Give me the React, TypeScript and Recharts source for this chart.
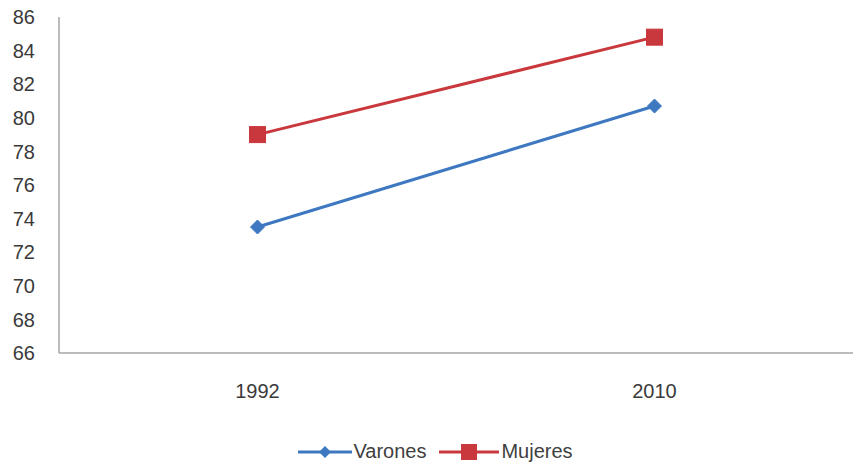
import React from 'react';
import { LineChart, Line, XAxis, YAxis, Legend } from 'recharts';

const years = ['1992', '2010'];
const varones = [73.5, 80.7];
const mujeres = [79.0, 84.8];
const yTicks = [66, 68, 70, 72, 74, 76, 78, 80, 82, 84, 86];

const data = years.map((y, i) => ({ year: y, Varones: varones[i], Mujeres: mujeres[i] }));

const BLUE = '#3D78C0';
const RED = '#C9383C';
const FONT = '"Liberation Sans", Arial, sans-serif';

const Diamond = (props: any) => {
  const { cx, cy } = props;
  if (cx == null || cy == null) return null;
  const r = 7;
  return <path d={`M${cx},${cy - r}L${cx + r},${cy}L${cx},${cy + r}L${cx - r},${cy}Z`} fill={BLUE} stroke={BLUE} />;
};

const Square = (props: any) => {
  const { cx, cy } = props;
  if (cx == null || cy == null) return null;
  const s = 8;
  return <rect x={cx - s} y={cy - s} width={2 * s} height={2 * s} fill={RED} stroke={RED} />;
};

const LegendContent = () => (
  <div style={{ display: 'flex', justifyContent: 'center', alignItems: 'center', width: 853, paddingLeft: 18, paddingTop: 7, boxSizing: 'border-box', fontFamily: FONT, fontSize: 20, color: '#404040' }}>
    <svg width={54} height={20} style={{ marginRight: 1 }}>
      <line x1={0} y1={10} x2={54} y2={10} stroke={BLUE} strokeWidth={3} />
      <path d="M27,4L33,10L27,16L21,10Z" fill={BLUE} />
    </svg>
    <span style={{ marginRight: 13 }}>Varones</span>
    <svg width={60} height={20} style={{ marginRight: 2 }}>
      <line x1={0} y1={10} x2={60} y2={10} stroke={RED} strokeWidth={3} />
      <rect x={22} y={2} width={16} height={16} fill={RED} />
    </svg>
    <span>Mujeres</span>
  </div>
);

export default function App() {
  return (
    <div style={{ position: 'absolute', left: 0, top: 0, background: '#fff' }}>
      <LineChart width={853} height={463} data={data} margin={{ top: 17, right: 0, left: 0, bottom: 0 }}>
        <XAxis
          dataKey="year"
          scale="band"
          axisLine={{ stroke: '#A6A6A6', strokeWidth: 1.5 }}
          tickLine={false}
          tickSize={0}
          tickMargin={31}
          height={80}
          tick={{ fill: '#3A3A3A', fontSize: 20, fontFamily: FONT }}
        />
        <YAxis
          domain={[66, 86]}
          ticks={yTicks}
          interval={0}
          width={59}
          axisLine={{ stroke: '#A6A6A6', strokeWidth: 1.5 }}
          tickLine={false}
          tickSize={0}
          tickMargin={24}
          tick={{ fill: '#3A3A3A', fontSize: 20, fontFamily: FONT }}
        />
        <Legend verticalAlign="bottom" height={30} content={<LegendContent />} wrapperStyle={{ left: 0, width: 853, bottom: 0 }} />
        <Line dataKey="Varones" stroke={BLUE} strokeWidth={3} dot={<Diamond />} activeDot={false} isAnimationActive={false} />
        <Line dataKey="Mujeres" stroke={RED} strokeWidth={3} dot={<Square />} activeDot={false} isAnimationActive={false} />
      </LineChart>
    </div>
  );
}
